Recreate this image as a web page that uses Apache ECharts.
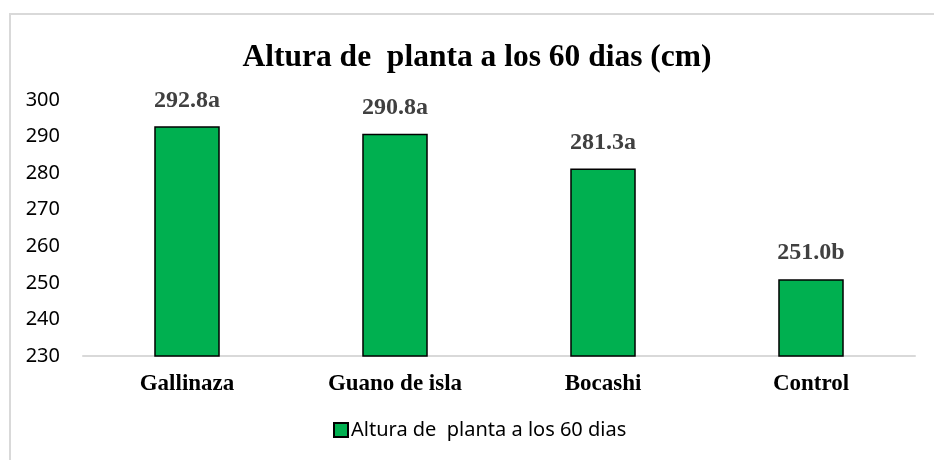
<!DOCTYPE html>
<html>
<head>
<meta charset="utf-8">
<script src="https://cdn.jsdelivr.net/npm/echarts@6/dist/echarts.min.js"></script>
<style>html,body{margin:0;padding:0;background:#fff;}#c{width:934px;height:460px;}</style>
</head>
<body>
<div id="c"></div>
<script>
const categories = ['Gallinaza', 'Guano de isla', 'Bocashi', 'Control'];
const values = [292.8, 290.8, 281.3, 251.0];
const letters = ['a', 'a', 'a', 'b'];
const seriesName = 'Altura de  planta a los 60 dias';
const titleText = 'Altura de  planta a los 60 dias (cm)';

const chart = echarts.init(document.getElementById('c'), null, {renderer: 'canvas'});
chart.setOption({
  animation: false,
  backgroundColor: '#fff',
  graphic: [
    {type: 'rect', shape: {x: 10, y: 14, width: 940, height: 470}, style: {fill: 'none', stroke: '#d9d9d9', lineWidth: 2}, z: -1},
    {type: 'text', x: 477, y: 58, style: {text: titleText, font: 'bold 31.5px "Liberation Serif"', fill: '#000', align: 'center', verticalAlign: 'middle'}}
  ],
  legend: {
    left: 328, top: 415,
    itemWidth: 14, itemHeight: 14, itemGap: 10,
    textStyle: {fontFamily: 'Noto Sans', fontSize: 20, color: '#000', padding: [0, 0, 0, -2]},
    data: [{name: seriesName, icon: 'rect'}]
  },
  grid: {left: 83, right: 19, top: 100, bottom: 104, containLabel: false},
  xAxis: {
    type: 'category', data: categories,
    axisLine: {show: true, lineStyle: {color: '#d9d9d9', width: 2}},
    axisTick: {show: false},
    axisLabel: {fontFamily: 'Liberation Serif', fontWeight: 'bold', fontSize: 23, color: '#000', margin: 17}
  },
  yAxis: {
    type: 'value', min: 230, max: 300, interval: 10,
    axisLine: {show: false}, axisTick: {show: false}, splitLine: {show: false},
    axisLabel: {fontFamily: 'Noto Sans', fontSize: 20, color: '#000', margin: 23}
  },
  series: [{
    name: seriesName, type: 'bar', data: values, barWidth: '31.5%',
    itemStyle: {color: '#00b050', borderColor: '#000', borderWidth: 1.5},
    label: {
      show: true, position: 'top', distance: 14,
      formatter: p => p.value.toFixed(1) + letters[p.dataIndex],
      fontFamily: 'Liberation Serif', fontWeight: 'bold', fontSize: 24, color: '#404040'
    }
  }]
});
</script>
</body>
</html>
